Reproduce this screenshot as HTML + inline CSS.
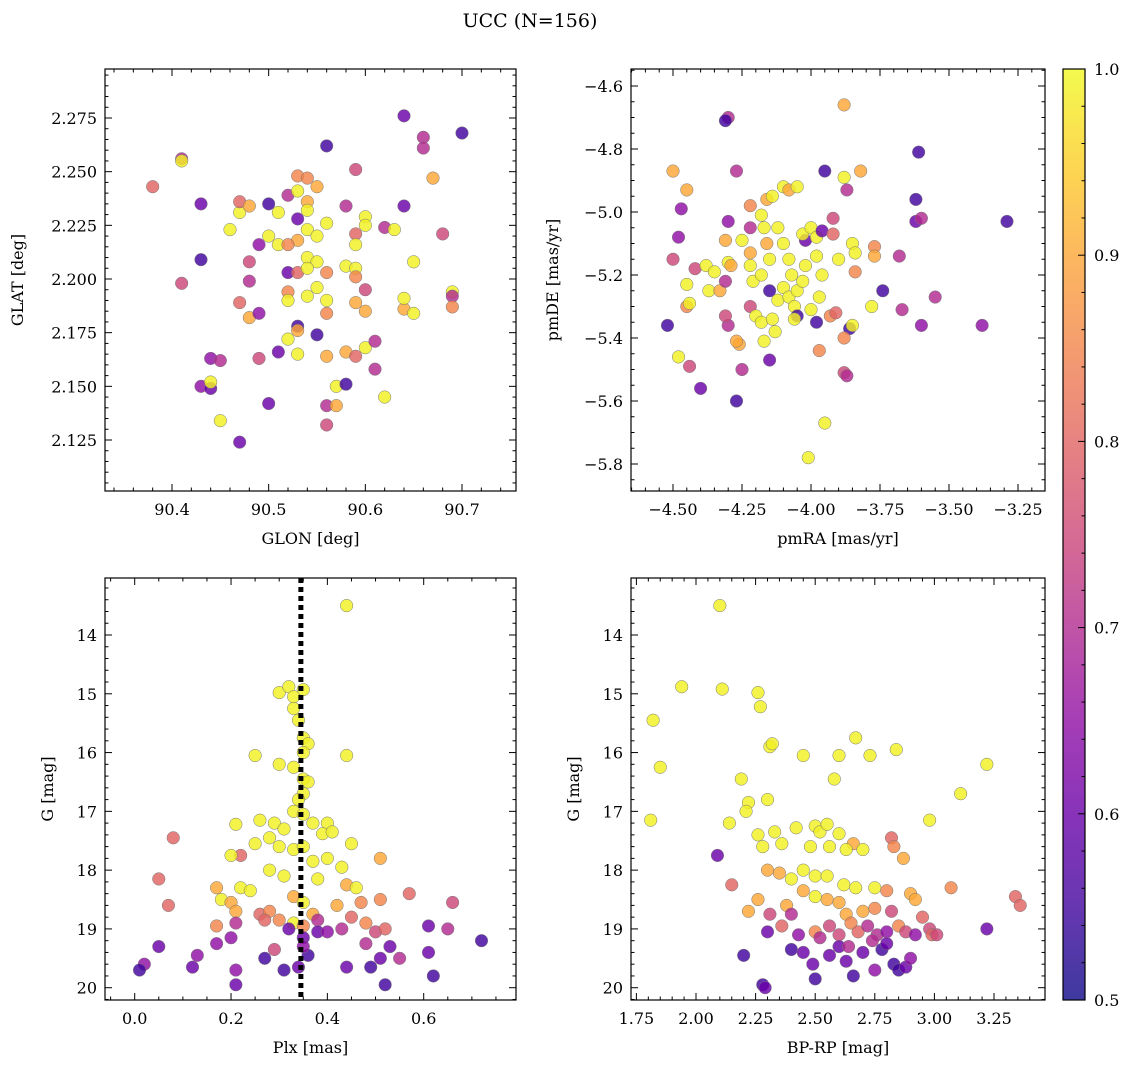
<!DOCTYPE html>
<html><head><meta charset="utf-8"><style>
body{margin:0;background:#fff;width:1136px;height:1068px;overflow:hidden}
svg text{font-family:"DejaVu Serif","Liberation Serif",serif;fill:#000}
</style></head><body>
<svg id="c" width="1136" height="1068" xmlns="http://www.w3.org/2000/svg">
<defs><linearGradient id="cg" x1="0" y1="1" x2="0" y2="0">
<stop offset="0" stop-color="#0d0887"/><stop offset="0.1" stop-color="#41049d"/><stop offset="0.2" stop-color="#6a00a8"/><stop offset="0.3" stop-color="#8f0da4"/><stop offset="0.4" stop-color="#b12a90"/><stop offset="0.5" stop-color="#cc4778"/><stop offset="0.6" stop-color="#e16462"/><stop offset="0.7" stop-color="#f2844b"/><stop offset="0.8" stop-color="#fca636"/><stop offset="0.9" stop-color="#fcce25"/><stop offset="1" stop-color="#f0f921"/></linearGradient></defs>
<text x="530" y="27" font-size="19" text-anchor="middle">UCC (N=156)</text>
</svg>
<script>
const p1x=[90.38,90.41,90.41,90.43,90.43,90.41,90.44,90.45,90.43,90.44,90.44,90.45,90.47,90.46,90.47,90.47,90.48,90.48,90.48,90.47,90.48,90.49,90.49,90.50,90.50,90.51,90.51,90.49,90.50,90.51,90.52,90.52,90.52,90.52,90.53,90.53,90.53,90.52,90.53,90.54,90.53,90.54,90.54,90.55,90.53,90.54,90.53,90.52,90.55,90.56,90.54,90.55,90.53,90.54,90.56,90.55,90.54,90.56,90.56,90.55,90.56,90.57,90.56,90.57,90.56,90.56,90.58,90.59,90.59,90.59,90.60,90.60,90.58,90.59,90.59,90.59,90.58,90.59,90.58,90.60,90.60,90.60,90.61,90.61,90.62,90.62,90.63,90.64,90.64,90.64,90.65,90.65,90.64,90.66,90.66,90.67,90.68,90.69,90.69,90.69,90.70];
const p1y=[2.243,2.256,2.255,2.235,2.209,2.198,2.163,2.162,2.150,2.149,2.152,2.134,2.124,2.223,2.231,2.236,2.234,2.208,2.199,2.189,2.182,2.184,2.216,2.220,2.235,2.231,2.216,2.163,2.142,2.166,2.203,2.194,2.190,2.172,2.178,2.176,2.165,2.239,2.248,2.247,2.241,2.236,2.232,2.243,2.228,2.223,2.218,2.216,2.220,2.226,2.210,2.208,2.203,2.205,2.203,2.196,2.192,2.190,2.184,2.174,2.164,2.150,2.141,2.141,2.132,2.262,2.234,2.251,2.221,2.216,2.229,2.225,2.206,2.205,2.201,2.189,2.166,2.164,2.151,2.195,2.185,2.168,2.171,2.158,2.145,2.224,2.223,2.234,2.186,2.191,2.208,2.184,2.276,2.266,2.261,2.247,2.221,2.194,2.192,2.187,2.268];
const p1c=[0.8,0.7,0.99,0.6,0.55,0.75,0.65,0.7,0.65,0.6,0.99,0.99,0.6,0.99,0.99,0.8,0.9,0.75,0.7,0.8,0.9,0.65,0.65,0.99,0.55,0.99,0.99,0.75,0.6,0.6,0.6,0.85,0.99,0.99,0.55,0.9,0.99,0.7,0.85,0.85,0.99,0.9,0.99,0.9,0.6,0.99,0.9,0.85,0.99,0.99,0.99,0.99,0.8,0.99,0.85,0.99,0.99,0.99,0.85,0.55,0.9,0.99,0.7,0.9,0.75,0.55,0.7,0.75,0.8,0.99,0.99,0.99,0.99,0.99,0.85,0.9,0.9,0.8,0.55,0.75,0.9,0.99,0.7,0.7,0.99,0.7,0.99,0.6,0.9,0.99,0.99,0.99,0.6,0.7,0.7,0.9,0.75,0.99,0.7,0.85,0.55];
const p2x=[-4.30,-4.31,-4.50,-4.45,-4.47,-4.48,-4.50,-4.52,-4.48,-4.44,-4.40,-4.27,-4.25,-4.26,-4.27,-4.30,-4.31,-4.45,-4.44,-4.45,-4.42,-4.38,-4.35,-4.37,-4.33,-4.31,-4.30,-4.29,-4.31,-4.30,-4.27,-4.22,-4.22,-4.25,-4.22,-4.22,-4.21,-4.22,-4.20,-4.18,-4.17,-4.15,-4.13,-4.14,-4.15,-4.12,-4.18,-4.15,-4.16,-4.17,-4.18,-4.16,-4.14,-4.12,-4.10,-4.08,-4.05,-4.10,-4.08,-4.07,-4.10,-4.08,-4.06,-4.05,-4.06,-4.05,-4.03,-4.02,-4.02,-4.03,-4.00,-3.98,-3.96,-3.98,-3.96,-3.97,-3.98,-4.00,-3.97,-4.01,-3.95,-3.95,-3.93,-3.91,-3.90,-3.92,-3.92,-3.88,-3.87,-3.88,-3.85,-3.84,-3.84,-3.82,-3.86,-3.85,-3.88,-3.88,-3.87,-3.77,-3.77,-3.74,-3.78,-3.68,-3.67,-3.61,-3.62,-3.62,-3.60,-3.60,-3.55,-3.38,-3.29];
const p2y=[-4.70,-4.71,-4.87,-4.93,-4.99,-5.08,-5.15,-5.36,-5.46,-5.49,-5.56,-5.60,-5.50,-5.42,-5.41,-5.36,-5.33,-5.30,-5.29,-5.23,-5.18,-5.17,-5.19,-5.25,-5.25,-5.22,-5.16,-5.17,-5.09,-5.03,-4.87,-4.98,-5.05,-5.09,-5.13,-5.17,-5.22,-5.30,-5.33,-5.35,-5.41,-5.47,-5.38,-5.34,-5.25,-5.28,-5.20,-5.15,-5.10,-5.05,-5.01,-4.96,-4.95,-5.05,-4.92,-4.93,-4.92,-5.10,-5.15,-5.20,-5.24,-5.27,-5.30,-5.33,-5.34,-5.25,-5.22,-5.17,-5.09,-5.07,-5.05,-5.08,-5.06,-5.14,-5.20,-5.27,-5.35,-5.31,-5.44,-5.78,-5.67,-4.87,-5.33,-5.32,-5.15,-5.07,-5.02,-4.89,-4.93,-4.66,-5.10,-5.13,-5.19,-4.87,-5.37,-5.36,-5.40,-5.51,-5.52,-5.11,-5.14,-5.25,-5.30,-5.14,-5.31,-4.81,-4.96,-5.03,-5.02,-5.36,-5.27,-5.36,-5.03];
const p2c=[0.7,0.55,0.9,0.9,0.65,0.65,0.75,0.55,0.99,0.75,0.6,0.55,0.7,0.9,0.9,0.7,0.75,0.85,0.99,0.99,0.75,0.99,0.99,0.99,0.9,0.7,0.99,0.9,0.9,0.65,0.7,0.85,0.7,0.99,0.9,0.99,0.99,0.75,0.99,0.99,0.99,0.6,0.99,0.99,0.55,0.99,0.99,0.99,0.9,0.99,0.99,0.9,0.99,0.99,0.99,0.9,0.99,0.99,0.99,0.99,0.99,0.99,0.99,0.55,0.99,0.99,0.99,0.99,0.6,0.99,0.99,0.99,0.6,0.99,0.99,0.99,0.55,0.99,0.85,0.99,0.99,0.55,0.85,0.8,0.99,0.8,0.75,0.99,0.7,0.9,0.99,0.99,0.85,0.9,0.55,0.99,0.85,0.75,0.7,0.85,0.9,0.55,0.99,0.7,0.7,0.55,0.55,0.6,0.7,0.65,0.7,0.65,0.55];
const p3x=[0.44,0.35,0.30,0.32,0.33,0.33,0.34,0.35,0.36,0.35,0.25,0.44,0.30,0.33,0.35,0.36,0.35,0.34,0.33,0.35,0.29,0.26,0.21,0.37,0.40,0.31,0.39,0.41,0.45,0.28,0.25,0.30,0.33,0.35,0.22,0.20,0.08,0.37,0.40,0.43,0.51,0.28,0.31,0.38,0.44,0.46,0.22,0.24,0.17,0.18,0.05,0.07,0.20,0.21,0.26,0.28,0.33,0.35,0.37,0.42,0.47,0.51,0.57,0.17,0.21,0.27,0.30,0.33,0.35,0.38,0.43,0.45,0.48,0.50,0.52,0.61,0.66,0.65,0.72,0.20,0.17,0.13,0.05,0.02,0.01,0.12,0.21,0.21,0.27,0.31,0.34,0.36,0.35,0.35,0.38,0.40,0.44,0.48,0.49,0.51,0.52,0.53,0.55,0.61,0.62,0.29,0.32];
const p3y=[13.5,14.93,14.98,14.88,15.05,15.25,15.45,15.75,15.85,16.0,16.05,16.05,16.2,16.25,16.45,16.5,16.7,16.8,17.0,17.05,17.2,17.15,17.22,17.2,17.2,17.3,17.38,17.35,17.55,17.45,17.55,17.6,17.65,17.6,17.75,17.75,17.45,17.85,17.8,17.95,17.8,18.0,18.1,18.15,18.25,18.3,18.3,18.35,18.3,18.5,18.15,18.6,18.55,18.7,18.75,18.7,18.45,18.55,18.75,18.6,18.55,18.5,18.4,18.95,18.9,18.85,18.85,18.9,18.95,18.85,19.0,18.8,18.9,19.05,19.0,18.95,18.55,19.0,19.2,19.15,19.25,19.45,19.3,19.6,19.7,19.65,19.7,19.95,19.5,19.7,19.65,19.45,19.15,19.3,19.05,19.05,19.65,19.25,19.65,19.5,19.95,19.3,19.5,19.4,19.8,19.35,19.0];
const p3c=[0.99,0.99,0.99,0.99,0.99,0.99,0.99,0.99,0.99,0.99,0.99,0.99,0.99,0.99,0.99,0.99,0.99,0.99,0.99,0.99,0.99,0.99,0.99,0.99,0.99,0.99,0.99,0.99,0.99,0.99,0.99,0.99,0.99,0.99,0.8,0.99,0.8,0.99,0.99,0.99,0.9,0.99,0.99,0.99,0.9,0.99,0.99,0.99,0.9,0.99,0.8,0.8,0.9,0.9,0.8,0.85,0.9,0.99,0.9,0.9,0.85,0.85,0.8,0.85,0.7,0.8,0.85,0.99,0.85,0.7,0.7,0.8,0.85,0.75,0.8,0.6,0.75,0.7,0.55,0.65,0.65,0.65,0.6,0.65,0.55,0.6,0.65,0.6,0.55,0.55,0.6,0.55,0.6,0.65,0.6,0.65,0.6,0.7,0.55,0.6,0.55,0.6,0.7,0.6,0.55,0.75,0.6];
const p4x=[2.10,1.82,1.94,2.11,2.26,2.27,1.85,1.81,2.31,2.32,2.45,2.60,2.67,2.73,2.84,2.58,2.19,2.22,2.30,2.21,2.14,2.26,2.33,2.42,2.50,2.52,2.55,2.60,2.66,2.70,2.63,2.56,2.48,2.36,2.28,2.82,2.83,2.98,3.11,3.22,2.87,2.09,2.15,2.30,2.35,2.40,2.45,2.50,2.55,2.62,2.67,2.75,2.80,2.90,3.07,3.34,3.36,2.26,2.22,2.31,2.38,2.45,2.50,2.55,2.60,2.63,2.70,2.75,2.82,2.92,2.95,2.98,2.99,3.01,3.22,2.30,2.36,2.40,2.43,2.50,2.52,2.56,2.60,2.65,2.68,2.72,2.76,2.80,2.85,2.88,2.92,2.20,2.28,2.29,2.40,2.45,2.49,2.50,2.56,2.60,2.63,2.66,2.70,2.75,2.78,2.80,2.83,2.85,2.88,2.90,2.74,2.64];
const p4y=[13.5,15.45,14.88,14.92,14.98,15.22,16.25,17.15,15.9,15.85,16.05,16.05,15.75,16.05,15.95,16.45,16.45,16.85,16.8,17.0,17.2,17.4,17.35,17.28,17.25,17.35,17.22,17.38,17.55,17.65,17.65,17.6,17.6,17.55,17.6,17.45,17.6,17.15,16.7,16.2,17.8,17.75,18.25,18.0,18.05,18.15,18.0,18.1,18.1,18.25,18.3,18.3,18.35,18.4,18.3,18.45,18.6,18.5,18.7,18.75,18.6,18.35,18.45,18.5,18.55,18.75,18.7,18.65,18.7,18.5,18.8,19.0,19.1,19.1,19.0,19.05,18.95,18.75,19.1,19.05,19.15,18.95,19.1,18.9,19.05,18.95,19.1,19.05,18.95,19.05,19.1,19.45,19.95,20.0,19.35,19.4,19.6,19.85,19.45,19.3,19.55,19.8,19.4,19.7,19.35,19.25,19.6,19.7,19.65,19.5,19.2,19.3];
const p4c=[0.99,0.99,0.99,0.99,0.99,0.99,0.99,0.99,0.99,0.99,0.99,0.99,0.99,0.99,0.99,0.99,0.99,0.99,0.99,0.99,0.99,0.99,0.99,0.99,0.99,0.99,0.99,0.99,0.9,0.99,0.99,0.99,0.99,0.99,0.99,0.8,0.85,0.99,0.99,0.99,0.9,0.6,0.8,0.9,0.9,0.99,0.99,0.99,0.99,0.99,0.99,0.99,0.85,0.9,0.85,0.8,0.8,0.9,0.9,0.75,0.9,0.9,0.99,0.9,0.9,0.9,0.9,0.85,0.75,0.9,0.8,0.75,0.8,0.75,0.6,0.6,0.8,0.7,0.65,0.85,0.7,0.75,0.75,0.85,0.8,0.7,0.7,0.65,0.85,0.75,0.65,0.55,0.55,0.6,0.55,0.6,0.6,0.55,0.6,0.6,0.6,0.55,0.6,0.65,0.55,0.6,0.55,0.55,0.6,0.65,0.7,0.7];
const plxLine=[0.345];
const cbTicks=[0.5,0.6,0.7,0.8,0.9,1.0];

const NS='http://www.w3.org/2000/svg';
const svg=document.getElementById('c');
function mk(t,a,parent){const e=document.createElementNS(NS,t);for(const k in a)e.setAttribute(k,a[k]);(parent||svg).appendChild(e);return e;}
const stops=[[13,8,135],[65,4,157],[106,0,168],[143,13,164],[177,42,144],[204,71,120],[225,100,98],[242,132,75],[252,166,54],[252,206,37],[240,249,33]];
function plasma(v){let t=(v-0.5)/0.5;t=Math.max(0,Math.min(1,t))*10;const i=Math.min(9,Math.floor(t)),f=t-i;const a=stops[i],b=stops[i+1];return 'rgb('+a.map((x,k)=>Math.round(x+(b[k]-x)*f)).join(',')+')';}
function lin(d0,d1,r0,r1){return v=>r0+(v-d0)/(d1-d0)*(r1-r0);}
function dec(v,n){return v.toFixed(n);}
function panel(o){
  const {L,T,R,B,sx,sy,xs,ys,cs,name}=o;
  const g=mk('g',{});
  
  
  xs.forEach((x,i)=>{const c=mk('circle',{cx:sx(x),cy:sy(ys[i]),r:6.3,fill:plasma(cs[i]),'fill-opacity':0.82,stroke:'#777','stroke-width':0.5},g);
    
    });
  if(o.extra)o.extra(g);
  const fr=mk('rect',{x:L,y:T,width:R-L,height:B-T,fill:'none',stroke:'#000','stroke-width':1.2},g);
  
  
  const nx=Math.round((o.xmax-o.xmin)/o.xminor);
  for(let k=0;k<=nx;k++){const v=o.xmin+k*o.xminor;const px=sx(v);if(px<L-0.5||px>R+0.5)continue;
    const maj=Math.abs(v/o.xmajor-Math.round(v/o.xmajor))<1e-6;const len=maj?7:3.5;
    mk('line',{x1:px,x2:px,y1:B,y2:B-len,stroke:'#000','stroke-width':1},g);mk('line',{x1:px,x2:px,y1:T,y2:T+len,stroke:'#000','stroke-width':1},g);
    if(maj){const t=mk('text',{x:px,y:B+24,'font-size':16,'text-anchor':'middle'},g);t.textContent=o.xfmt(v);
      
      }}
  const ny=Math.round((o.ymax-o.ymin)/o.yminor);
  for(let k=0;k<=ny;k++){const v=o.ymin+k*o.yminor;const py=sy(v);if(py<T-0.5||py>B+0.5)continue;
    const maj=Math.abs(v/o.ymajor-Math.round(v/o.ymajor))<1e-6;const len=maj?7:3.5;
    mk('line',{x1:L,x2:L+len,y1:py,y2:py,stroke:'#000','stroke-width':1},g);mk('line',{x1:R,x2:R-len,y1:py,y2:py,stroke:'#000','stroke-width':1},g);
    if(maj){const t=mk('text',{x:L-8,y:py+6,'font-size':16,'text-anchor':'end'},g);t.textContent=o.yfmt(v);
      
      }}
  const xl=mk('text',{x:(L+R)/2,y:B+53,'font-size':16,'text-anchor':'middle'},g);xl.textContent=o.xlab;
  
  
  const yl=mk('text',{x:0,y:0,'font-size':16,'text-anchor':'middle',transform:`translate(${o.ylx},${(T+B)/2}) rotate(-90)`},g);yl.textContent=o.ylab;
  
  
}
panel({name:'glon-glat-panel',L:105,T:69,R:516,B:491,sx:lin(90.4,90.7,172,462),sy:lin(2.275,2.125,118,440),xs:p1x,ys:p1y,cs:p1c,
 xmin:90.30,xmax:90.80,xminor:0.02,xmajor:0.1,ymin:2.100,ymax:2.300,yminor:0.005,ymajor:0.025,xfmt:v=>dec(v,1),yfmt:v=>dec(v,3),xlab:'GLON [deg]',ylab:'GLAT [deg]',ylx:23});
panel({name:'proper-motion-panel',L:631,T:69,R:1045,B:491,sx:lin(-4.5,-3.25,673,1018),sy:lin(-4.6,-5.8,86,464),xs:p2x,ys:p2y,cs:p2c,
 xmin:-4.7,xmax:-3.1,xminor:0.05,xmajor:0.25,ymin:-6.0,ymax:-4.5,yminor:0.05,ymajor:0.2,xfmt:v=>(v<0?'\u2212':'')+dec(Math.abs(v),2),yfmt:v=>(v<0?'\u2212':'')+dec(Math.abs(v),1),xlab:'pmRA [mas/yr]',ylab:'pmDE [mas/yr]',ylx:558});
panel({name:'plx-g-panel',L:105,T:578,R:516,B:1000,sx:lin(0,0.6,134.7,423.7),sy:lin(14,20,635,987.7),xs:p3x,ys:p3y,cs:p3c,
 xmin:-0.1,xmax:0.85,xminor:0.05,xmajor:0.2,ymin:13,ymax:20.4,yminor:0.2,ymajor:1,xfmt:v=>dec(Math.abs(v)<1e-9?0:v,1),yfmt:v=>dec(v,0),xlab:'Plx [mas]',ylab:'G [mag]',ylx:53,
 extra:g=>{plxLine.forEach(v=>{const x=lin(0,0.6,134.7,423.7)(v);const l=mk('line',{x1:x,x2:x,y1:578,y2:1000,stroke:'#000','stroke-width':5,'stroke-dasharray':'5,4'},g);
   
   });}});
panel({name:'cmd-panel',L:631,T:578,R:1045,B:1000,sx:lin(2.0,3.25,696,994),sy:lin(14,20,635,987.7),xs:p4x,ys:p4y,cs:p4c,
 xmin:1.6,xmax:3.4,xminor:0.05,xmajor:0.25,ymin:13,ymax:20.4,yminor:0.2,ymajor:1,xfmt:v=>dec(v,2),yfmt:v=>dec(v,0),xlab:'BP-RP [mag]',ylab:'G [mag]',ylx:579});
const cb=mk('g',{});


mk('rect',{x:1063,y:69,width:22,height:931,fill:'url(#cg)','fill-opacity':0.8},cb);
mk('rect',{x:1063,y:69,width:22,height:931,fill:'none',stroke:'#000','stroke-width':1.2},cb);
const cy=lin(0.5,1.0,1000,69);
for(let k=0;k<=25;k++){const v=0.5+k*0.02;const y=cy(v);const maj=k%5===0;
  mk('line',{x1:1085,x2:1085-(maj?7:3.5),y1:y,y2:y,stroke:'#000','stroke-width':1},cb);}
cbTicks.forEach(v=>{const t=mk('text',{x:1094,y:cy(v)+6,'font-size':16},cb);t.textContent=v.toFixed(1);
  
  });
</script>
</body></html>
